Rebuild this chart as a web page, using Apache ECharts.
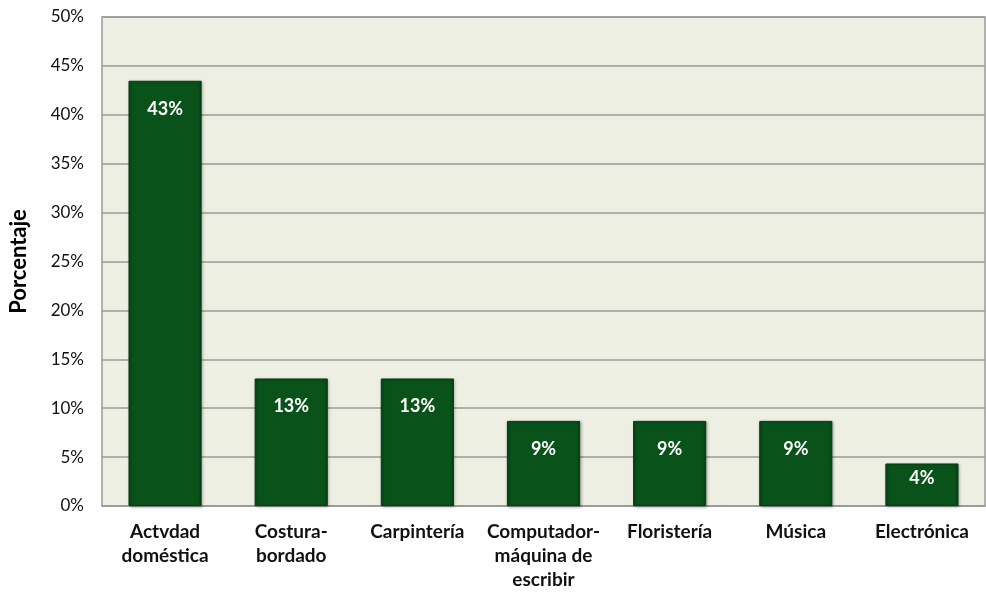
<!DOCTYPE html>
<html><head><meta charset="utf-8">
<script src="https://cdn.jsdelivr.net/npm/echarts@6/dist/echarts.min.js"></script>
<style>html,body{margin:0;padding:0;background:#fff}#c{width:986px;height:594px}</style>
</head><body><div id="c"></div>
<script>
const categories = ['Actvdad\ndoméstica', 'Costura-\nbordado', 'Carpintería', 'Computador-\nmáquina de\nescribir', 'Floristería', 'Música', 'Electrónica'];
const values = [43.48, 13.04, 13.04, 8.70, 8.70, 8.70, 4.35];
const yTicks = [0, 5, 10, 15, 20, 25, 30, 35, 40, 45, 50];
const axisTitle = 'Porcentaje';

const FONT = 'Lato, "Open Sans", sans-serif';
const chart = echarts.init(document.getElementById('c'));
chart.setOption({
  animation: false,
  grid: { left: 100, right: 1, top: 17, bottom: 88, show: true, backgroundColor: '#EDEFE3', borderColor: '#9a9a9a', borderWidth: 1.5 },
  xAxis: {
    type: 'category', data: categories,
    axisLine: { show: true, lineStyle: { color: '#9a9a9a', width: 1.5 } },
    axisTick: { show: false },
    axisLabel: { color: '#111', fontFamily: FONT, fontWeight: 'bold', fontSize: 19, margin: 14, lineHeight: 24, interval: 0 }
  },
  yAxis: {
    type: 'value', min: yTicks[0], max: yTicks[yTicks.length - 1], interval: 5,
    name: axisTitle, nameLocation: 'middle', nameGap: 72,
    nameTextStyle: { color: '#000', fontFamily: FONT, fontWeight: 'bold', fontSize: 22 },
    axisLine: { show: false }, axisTick: { show: false },
    splitLine: { lineStyle: { color: '#9a9a9a', width: 1.5 } },
    axisLabel: { color: '#111', fontFamily: FONT, fontSize: 17, margin: 18, formatter: v => v + '%' }
  },
  series: [{
    type: 'bar',
    data: values.map(v => v < 6 ? { value: v, label: { position: 'insideTop', distance: 6 } } : v),
    barWidth: '58%',
    itemStyle: {
      color: new echarts.graphic.LinearGradient(0, 0, 1, 0, [
        { offset: 0, color: '#084816' }, { offset: 0.06, color: '#09531B' },
        { offset: 0.94, color: '#09531B' }, { offset: 1, color: '#074214' }
      ]),
      borderColor: '#063D16', borderWidth: 1,
      shadowColor: 'rgba(0,0,0,0.3)', shadowBlur: 3, shadowOffsetX: 1, shadowOffsetY: 1
    },
    label: {
      show: true, position: 'insideTop', distance: 19, color: '#fff',
      fontFamily: FONT, fontWeight: 'bold', fontSize: 18,
      formatter: p => Math.round(p.value) + '%'
    }
  }]
});
</script></body></html>
